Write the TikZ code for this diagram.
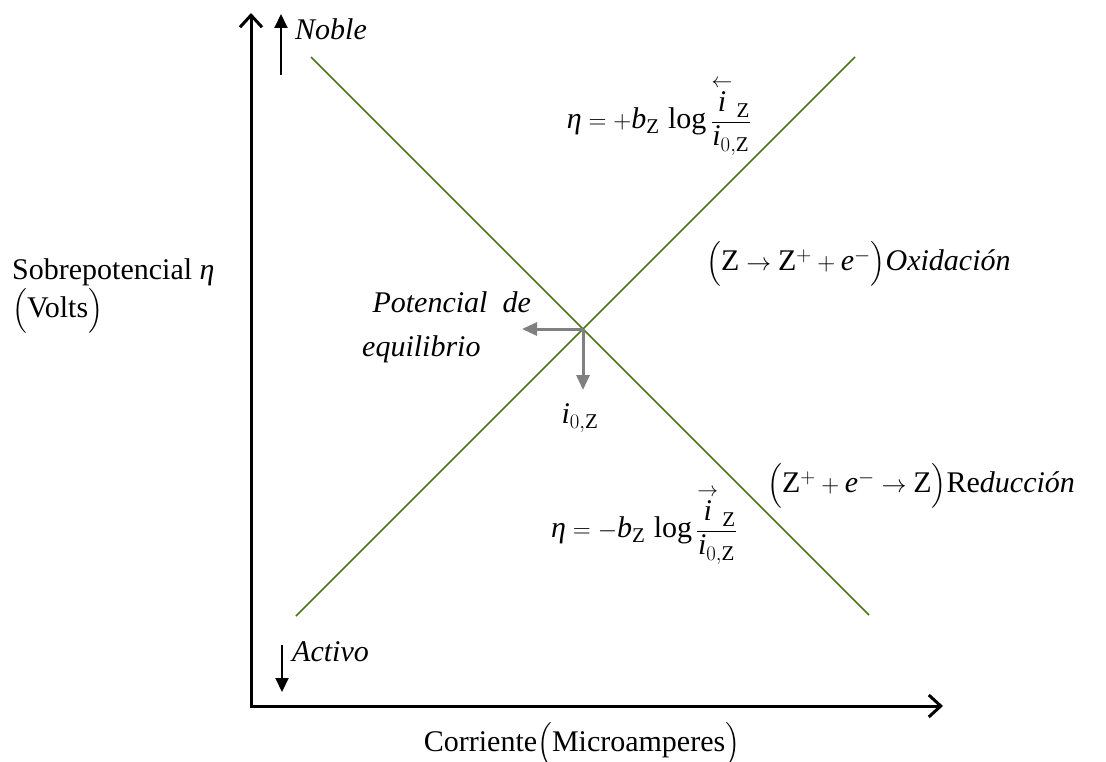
\documentclass[tikz,border=0pt]{standalone}
\usepackage{amsmath}
\usepackage{fontspec}
\setmainfont{Liberation Serif}
\usepackage{tikz}
\usetikzlibrary{arrows.meta,positioning,calc}
\definecolor{lineGreen}{RGB}{76,118,22}
\definecolor{arrowGray}{RGB}{128,128,128}
\newcommand{\vi}[1]{\textit{#1}}

\begin{document}
\begin{tikzpicture}[
    x=1pt, y=-1pt,
    txt/.style={inner sep=0pt, font=\fontsize{30}{36}\selectfont},
    axis/.style={line width=3pt, {Straight Barb[length=12pt,width=22pt]}-{Straight Barb[length=12pt,width=22pt]}},
    sense/.style={line width=2pt, -{Triangle[length=14pt,width=13pt]}},
    curve/.style={lineGreen, line width=1.5pt},
    marker/.style={arrowGray, line width=3pt, -{Triangle[length=15pt,width=13pt]}},
  ]
  \useasboundingbox (0,0) rectangle (1106,762);

  % axes
  \coordinate (ytop) at (251,13);
  \coordinate (origin) at (251,706);
  \coordinate (xend) at (943,706);
  \draw[axis] (ytop) -- (origin) -- (xend);

  % noble / activo
  \coordinate (nobleTail) at (281,75);
  \coordinate (nobleTip) at (281,14);
  \coordinate (activoTail) at (282,645);
  \coordinate (activoTip) at (282,692);
  \draw[sense] (nobleTail) -- (nobleTip);
  \draw[sense] (activoTail) -- (activoTip);
  \node[txt, anchor=base west] (noble) at (295,40) {\textit{Noble}};
  \node[txt, anchor=base west] (activo) at (292,661) {\textit{Activo}};

  % Tafel lines
  \coordinate (redTop) at (311,57);
  \coordinate (redEnd) at (869,615);
  \coordinate (oxEnd) at (296,616);
  \coordinate (oxTop) at (855,57);
  \draw[curve] (redTop) -- (redEnd);
  \draw[curve] (oxEnd) -- (oxTop);

  % equilibrium point
  \coordinate (eq) at (583,329);
  \coordinate (eqLeft) at (522,329);
  \coordinate (eqDown) at (583,390);
  \draw[marker] (eq) -- (eqLeft);
  \draw[marker] (eq) -- (eqDown);
  \node[txt, anchor=base east] (potencial) at (531,312) {\textit{Potencial\ \ de}};
  \node[txt, anchor=base west] (equilibrio) at (362,356) {\textit{equilibrio}};
  \node[txt] (izero) at (580,418) {$\vi{i}_{0,\mathrm{Z}}$};

  % formulas
  \node[txt] (etaOx) at (659,116)
    {$\vi{η} = +\vi{b}_{\mathrm{Z}}\,\log\dfrac{\overset{\leftarrow}{\vi{i}}\,{}_{\mathrm{Z}}}{\vi{i}_{0,\mathrm{Z}}}$};
  \node[txt] (etaRed) at (644,525)
    {$\vi{η} = -\vi{b}_{\mathrm{Z}}\,\log\dfrac{\overset{\rightarrow}{\vi{i}}\,{}_{\mathrm{Z}}}{\vi{i}_{0,\mathrm{Z}}}$};
  \node[txt, anchor=west] (oxid) at (706,264)
    {$\Bigl(\mathrm{Z}\rightarrow \mathrm{Z}^{+}+\vi{e}^{-}\Bigr)$\textit{Oxidación}};
  \node[txt, anchor=west] (reduc) at (767,486)
    {$\Bigl(\mathrm{Z}^{+}+\vi{e}^{-}\rightarrow \mathrm{Z}\Bigr)$Re\textit{ducción}};

  % axis labels
  \node[txt, align=left, anchor=west] (sobre) at (12,296)
    {Sobrepotencial \textit{η}\\[2pt]$\Bigl($Volts$\Bigr)$};
  \node[txt] (corriente) at (582,745) {Corriente$\Bigl($Microamperes$\Bigr)$};

\end{tikzpicture}
\end{document}
